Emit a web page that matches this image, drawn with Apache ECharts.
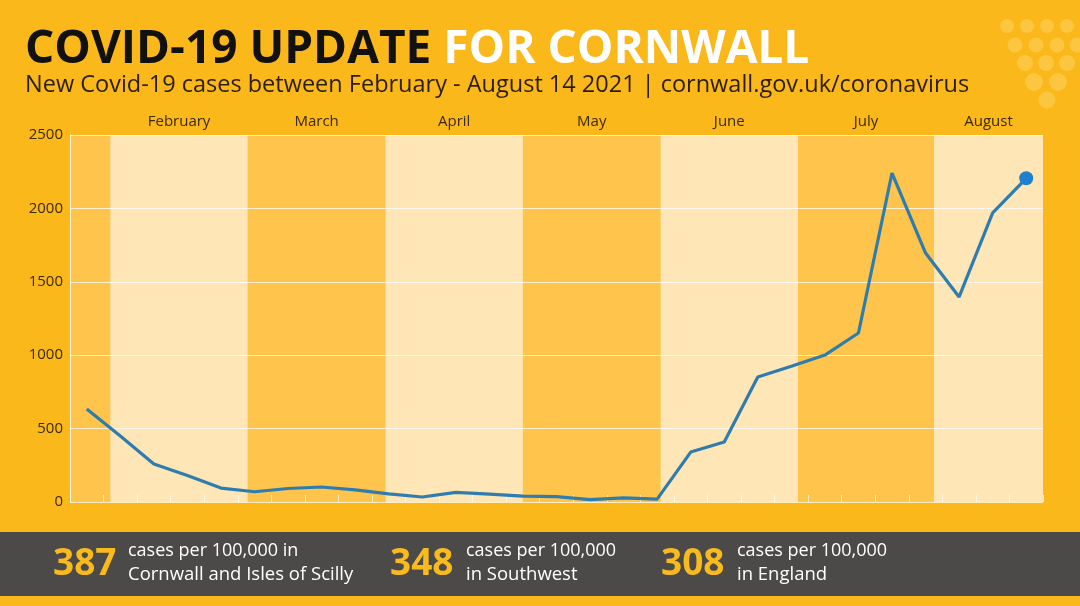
<!DOCTYPE html>
<html>
<head>
<meta charset="utf-8">
<script src="https://cdn.jsdelivr.net/npm/echarts@6/dist/echarts.min.js"></script>
<style>
html,body{margin:0;padding:0;background:#FBB81A;}
#main{width:1080px;height:606px;}
</style>
</head>
<body>
<div id="main"></div>
<script>
// weekly new cases, February - August 14 2021
var weeks=[];
var cases=[634,450,259,180,95,70,92,102,82,55,34,65,54,40,36,16,28,20,340,409,851,925,1001,1151,2241,1696,1397,1969,2205];
for(var i=0;i<cases.length;i++){weeks.push(i);}
// month bands, in week units along the axis
var months=["","February","March","April","May","June","July","August"];
var monthEdges=[-0.5,0.7,4.8,8.9,13.0,17.1,21.2,25.25,28.5];
var yTicks=[0,500,1000,1500,2000,2500];
// footer figures
var rates=["387","348","308"];
var rateLines=[["cases per 100,000 in","Cornwall and Isles of Scilly"],["cases per 100,000","in Southwest"],["cases per 100,000","in England"]];

var chart=echarts.init(document.getElementById("main"));

var bands=[];
for(var m=0;m<months.length;m++){
    bands.push([{
        name:months[m],
        xAxis:monthEdges[m],
        itemStyle:{color:m%2==0?"#FEC44C":"#FEE6B6"}
    },{xAxis:monthEdges[m+1]}]);
}

//logo dots
var dots=[[1007,26,7],[1027,26,7],[1047,26,7],[1067,26,7],
    [1015,45,7.5],[1036,45,7.5],[1057,45,7.5],[1077,45,7.5],
    [1025,63,8],[1046,63,8],[1067,63,8],
    [1034,82,9],[1058,82,9],
    [1047,100,8.5]];
var graphics=[];
dots.forEach(function(d){
    graphics.push({type:"circle",shape:{cx:d[0],cy:d[1],r:d[2]},style:{fill:"rgba(255,222,130,0.38)"},silent:true});
});
graphics.push({type:"rect",shape:{x:0,y:532,width:1080,height:64},style:{fill:"#4B4A48"}});
var rateX=[53,390,661], textX=[128,466,737];
for(var k=0;k<rates.length;k++){
    graphics.push({type:"text",x:rateX[k],y:564,style:{text:rates[k],fill:"#F9BA1E",font:"bold 37px 'Open Sans'",textVerticalAlign:"middle"}});
    graphics.push({type:"text",x:textX[k],y:551,style:{text:rateLines[k][0],fill:"#ffffff",font:"18px 'Open Sans'",textVerticalAlign:"middle"}});
    graphics.push({type:"text",x:textX[k],y:575,style:{text:rateLines[k][1],fill:"#ffffff",font:"18.5px 'Open Sans'",textVerticalAlign:"middle"}});
}

var option={
    backgroundColor:"#FBB81A",
    animation:false,
    title:{
        left:20,top:22,
        text:"{a|COVID-19 UPDATE}{b|FOR CORNWALL}",
        textStyle:{fontSize:46,rich:{
            a:{color:"#111",fontSize:46,fontWeight:"bold",fontFamily:"Open Sans",padding:[0,12,0,0]},
            b:{color:"#fff",fontSize:46,fontWeight:"bold",fontFamily:"Open Sans"}
        }},
        subtext:"New Covid-19 cases between February - August 14 2021 | cornwall.gov.uk/coronavirus",
        subtextStyle:{color:"#2B1D05",fontSize:23.5,fontFamily:"Open Sans"},
        itemGap:0
    },
    grid:{left:70,right:37,top:135,bottom:104},
    xAxis:{
        type:"value",min:-0.5,max:28.5,interval:1,z:2,
        axisLine:{show:false,onZero:false},
        axisLabel:{show:false},
        axisTick:{show:true,inside:true,length:7,lineStyle:{color:"rgba(255,255,255,0.7)",width:1}},
        splitLine:{show:false}
    },
    yAxis:{
        type:"value",min:0,max:2500,interval:500,z:2,
        axisLine:{show:true,onZero:false,lineStyle:{color:"rgba(255,255,255,0.8)",width:1}},
        axisTick:{show:false},
        axisLabel:{color:"#3A2A05",fontSize:15,fontFamily:"Open Sans",margin:7,
            formatter:function(v){return yTicks.indexOf(v)>=0?String(v):"";}},
        splitLine:{show:true,lineStyle:{color:"rgba(255,255,255,0.75)",width:1}}
    },
    series:[{
        type:"line",z:1,silent:true,data:[],
        markArea:{
            silent:true,
            label:{show:true,position:"top",distance:6,color:"#3A2A05",fontSize:15,fontFamily:"Open Sans"},
            data:bands
        }
    },{
        type:"line",z:3,
        data:weeks.map(function(w){return [w,cases[w]];}),
        symbol:"none",
        lineStyle:{color:"#2F7DAE",width:3.2},
        silent:true
    },{
        type:"scatter",z:4,
        data:[[weeks[weeks.length-1],cases[cases.length-1]]],
        symbolSize:14,
        itemStyle:{color:"#1E80CF",opacity:1},
        silent:true
    }],
    graphic:graphics
};
chart.setOption(option);
</script>
</body>
</html>
